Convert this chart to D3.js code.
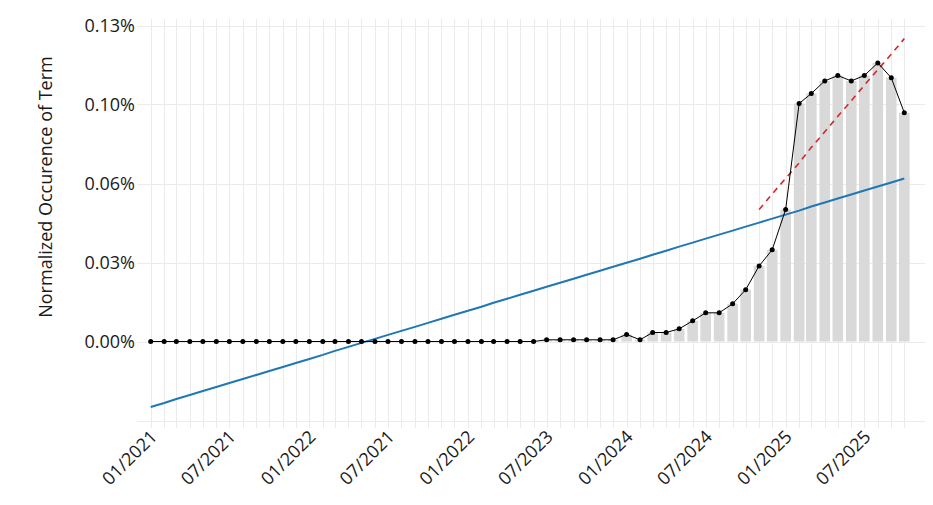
<!DOCTYPE html>
<html>
<head>
<meta charset="utf-8">
<script src="https://cdn.jsdelivr.net/npm/d3@7"></script>
<style>
  html, body { margin: 0; padding: 0; background: #fff; }
  svg { display: block; font-family: "Open Sans", sans-serif; }
</style>
</head>
<body>
<svg id="chart" width="933" height="505"></svg>
<script>
// ---- data ----
const startMonth = "2021-01";
const monthCount = 58; // 01/2021 .. 10/2025
const values = [
  0,0,0,0,0,0,0,0,0,0,0,0,
  0,0,0,0,0,0,0,0,0,0,0,0,
  0,0,0,0,0,0,
  0.0007,0.0007,0.0007,0.0007,0.0007,0.0007,
  0.0029,0.0007,0.0037,0.0037,0.0052,0.0085,
  0.0118,0.0118,0.0155,0.0213,0.0311,0.0377,
  0.0543,0.0979,0.1020,0.1072,0.1094,0.1072,
  0.1094,0.1146,0.1085,0.0941
];
const yTickValues = [0, 0.0325, 0.065, 0.0975, 0.13];
const yTickLabels = ["0.00%", "0.03%", "0.06%", "0.10%", "0.13%"];
const xTickLabels = ["01/2021","07/2021","01/2022","07/2021","01/2022","07/2023","01/2024","07/2024","01/2025","07/2025"];
const recentWindow = 12;
const yTitle = "Normalized Occurence of Term";

// ---- derived ----
const parse = d3.timeParse("%Y-%m");
const t0 = parse(startMonth);
const dates = d3.range(monthCount).map(i => d3.timeMonth.offset(t0, i));
const data = dates.map((d, i) => ({ date: d, value: values[i], i }));
const xTickDates = xTickLabels.map((_, k) => d3.timeMonth.offset(t0, k * 6));

function ols(points) {
  const mx = d3.mean(points, p => p.i), my = d3.mean(points, p => p.value);
  const sxy = d3.sum(points, p => (p.i - mx) * (p.value - my));
  const sxx = d3.sum(points, p => (p.i - mx) * (p.i - mx));
  const b = sxy / sxx, a = my - b * mx;
  return points.map(p => ({ date: p.date, value: a + b * p.i }));
}
const trendAll = ols(data);
const trendRecent = ols(data.slice(-recentWindow));

// ---- layout ----
const svg = d3.select("#chart");
const plotL = 137, plotR = 925, plotT = 19, plotB = 428;
const x = d3.scaleTime().domain([dates[0], dates[dates.length - 1]]).range([150.7, 904.3]);
const y = d3.scaleLinear().domain([-0.0325, 0.13]).range([420.5, 25.5]);
const textColor = "#1a1a1a";

const grid = svg.append("g");
grid.selectAll("line.h").data([-0.0325].concat(yTickValues)).join("line")
  .attr("x1", plotL).attr("x2", plotR)
  .attr("y1", d => Math.round(y(d)) + 0.5).attr("y2", d => Math.round(y(d)) + 0.5)
  .attr("stroke", "#ebebeb").attr("stroke-width", 1);
grid.selectAll("line.v").data(dates).join("line")
  .attr("x1", d => Math.round(x(d)) + 0.5).attr("x2", d => Math.round(x(d)) + 0.5)
  .attr("y1", plotT).attr("y2", plotB)
  .attr("stroke", "#ebebeb").attr("stroke-width", 1);

// bars
const bw = 10.6;
svg.append("g").selectAll("rect").data(data).join("rect")
  .attr("x", d => x(d.date) - bw / 2)
  .attr("width", bw)
  .attr("y", d => Math.min(y(d.value), y(0)))
  .attr("height", d => Math.abs(y(0) - y(d.value)))
  .attr("fill", "#d9d9d9");

const line = d3.line().x(d => x(d.date)).y(d => y(d.value));
svg.append("path").datum(trendAll).attr("d", line)
  .attr("fill", "none").attr("stroke", "#1f77b4").attr("stroke-width", 2);

svg.append("path").datum(trendRecent).attr("d", line)
  .attr("fill", "none").attr("stroke", "#d62728").attr("stroke-width", 1.6)
  .attr("stroke-dasharray", "6,5");

svg.append("path").datum(data).attr("d", line)
  .attr("fill", "none").attr("stroke", "#000").attr("stroke-width", 1);
svg.append("g").selectAll("circle").data(data).join("circle")
  .attr("cx", d => x(d.date)).attr("cy", d => y(d.value)).attr("r", 2.5)
  .attr("fill", "#000");

// y axis labels
const yAxis = d3.axisLeft(y).tickValues(yTickValues)
  .tickFormat((d, k) => yTickLabels[k]).tickSize(0).tickPadding(0);
const gy = svg.append("g").attr("transform", `translate(135,0)`).call(yAxis);
gy.select(".domain").remove();
gy.selectAll("text").attr("font-size", 18).attr("fill", textColor)
  .attr("font-family", "'Open Sans', sans-serif");

// x axis labels
const xAxis = d3.axisBottom(x).tickValues(xTickDates)
  .tickFormat((d, k) => xTickLabels[k]).tickSize(0).tickPadding(0);
const gx = svg.append("g").attr("transform", `translate(0,430)`).call(xAxis);
gx.select(".domain").remove();
gx.selectAll("text")
  .attr("font-size", 18).attr("fill", textColor)
  .attr("font-family", "'Open Sans', sans-serif")
  .attr("text-anchor", "end")
  .attr("x", 0).attr("y", 0).attr("dy", 0)
  .attr("transform", "translate(7,8) rotate(-45)");

// y title
svg.append("text")
  .attr("transform", "translate(52,187) rotate(-90)")
  .attr("text-anchor", "middle")
  .attr("font-size", 18).attr("fill", textColor)
  .attr("font-family", "'Open Sans', sans-serif")
  .text(yTitle);
</script>
</body>
</html>
